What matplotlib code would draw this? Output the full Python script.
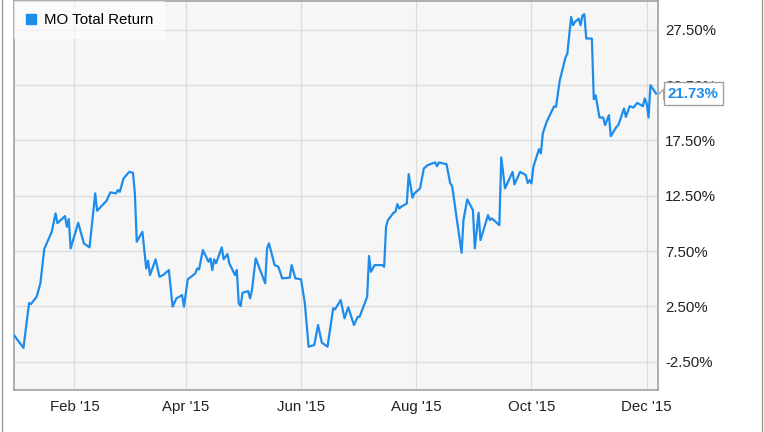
import pandas as pd
import matplotlib
matplotlib.use("Agg")
import matplotlib.pyplot as plt
import matplotlib.dates as mdates
from matplotlib.lines import Line2D
from matplotlib.ticker import FuncFormatter

plt.rcParams['font.family'] = ['Liberation Sans', 'DejaVu Sans']
plt.rcParams['font.sans-serif'] = ['Liberation Sans', 'DejaVu Sans']

series_name = "MO Total Return"

dates = [
    '2014-12-31', '2015-01-05', '2015-01-08', '2015-01-09', '2015-01-12', '2015-01-14',
    '2015-01-16', '2015-01-20', '2015-01-22', '2015-01-23', '2015-01-27', '2015-01-28',
    '2015-01-29', '2015-01-30', '2015-02-03', '2015-02-06', '2015-02-09', '2015-02-12',
    '2015-02-13', '2015-02-18', '2015-02-20', '2015-02-23', '2015-02-24', '2015-02-25',
    '2015-02-27', '2015-03-02', '2015-03-04', '2015-03-05', '2015-03-06', '2015-03-09',
    '2015-03-11', '2015-03-12', '2015-03-13', '2015-03-16', '2015-03-18', '2015-03-20',
    '2015-03-23', '2015-03-25', '2015-03-27', '2015-03-30', '2015-03-31', '2015-04-02',
    '2015-04-06', '2015-04-07', '2015-04-08', '2015-04-10', '2015-04-13', '2015-04-14',
    '2015-04-15', '2015-04-16', '2015-04-17', '2015-04-20', '2015-04-21', '2015-04-23',
    '2015-04-24', '2015-04-27', '2015-04-28', '2015-04-29', '2015-04-30', '2015-05-01',
    '2015-05-04', '2015-05-05', '2015-05-06', '2015-05-08', '2015-05-13', '2015-05-14',
    '2015-05-15', '2015-05-18', '2015-05-20', '2015-05-22', '2015-05-26', '2015-05-27',
    '2015-05-29', '2015-06-01', '2015-06-03', '2015-06-05', '2015-06-08', '2015-06-10',
    '2015-06-12', '2015-06-15', '2015-06-18', '2015-06-19', '2015-06-22', '2015-06-24',
    '2015-06-26', '2015-06-29', '2015-07-01', '2015-07-02', '2015-07-06', '2015-07-07',
    '2015-07-08', '2015-07-10', '2015-07-14', '2015-07-15', '2015-07-16', '2015-07-17',
    '2015-07-20', '2015-07-21', '2015-07-22', '2015-07-23', '2015-07-24', '2015-07-27',
    '2015-07-28', '2015-07-30', '2015-07-31', '2015-08-03', '2015-08-05', '2015-08-06',
    '2015-08-07', '2015-08-11', '2015-08-12', '2015-08-13', '2015-08-17', '2015-08-19',
    '2015-08-20', '2015-08-25', '2015-08-26', '2015-08-28', '2015-08-31', '2015-09-01',
    '2015-09-03', '2015-09-04', '2015-09-08', '2015-09-09', '2015-09-10', '2015-09-14',
    '2015-09-15', '2015-09-17', '2015-09-21', '2015-09-22', '2015-09-25', '2015-09-28',
    '2015-09-29', '2015-09-30', '2015-10-01', '2015-10-02', '2015-10-05', '2015-10-06',
    '2015-10-07', '2015-10-09', '2015-10-13', '2015-10-14', '2015-10-16', '2015-10-19',
    '2015-10-20', '2015-10-22', '2015-10-23', '2015-10-24', '2015-10-26', '2015-10-27',
    '2015-10-28', '2015-10-29', '2015-10-30', '2015-11-02', '2015-11-03', '2015-11-04',
    '2015-11-06', '2015-11-08', '2015-11-09', '2015-11-11', '2015-11-12', '2015-11-15',
    '2015-11-16', '2015-11-19', '2015-11-20', '2015-11-22', '2015-11-24', '2015-11-26',
    '2015-11-29', '2015-11-30', '2015-12-01', '2015-12-02', '2015-12-03', '2015-12-06',
]

total_return = [
    -0.10, -1.26, 2.80, 2.71, 3.37, 4.61,
    7.68, 9.24, 10.90, 10.02, 10.66, 9.69,
    10.39, 7.74, 10.05, 8.19, 7.83, 12.71,
    11.14, 12.04, 12.80, 12.71, 13.01, 12.85,
    14.06, 14.66, 14.57, 12.71, 8.34, 9.24,
    5.93, 6.62, 5.33, 6.75, 5.18, 5.33,
    5.78, 2.47, 3.22, 3.52, 2.47, 4.94,
    5.48, 5.93, 5.84, 7.59, 6.53, 6.84,
    5.78, 6.75, 6.39, 7.83, 6.75, 7.23,
    6.39, 5.33, 5.78, 2.77, 2.53, 3.73,
    3.88, 3.22, 3.97, 6.84, 4.58, 7.74,
    8.19, 6.23, 6.08, 5.03, 5.09, 6.23,
    5.03, 4.94, 2.77, -1.15, -0.99, 0.81,
    -0.78, -1.15, 2.32, 2.23, 3.07, 1.42,
    2.41, 0.81, 1.56, 1.56, 3.37, 7.05,
    5.63, 6.23, 6.23, 6.08, 9.69, 10.30,
    10.96, 11.05, 11.74, 11.35, 11.50, 11.80,
    14.45, 12.31, 12.71, 13.16, 14.96, 15.11,
    15.26, 15.51, 15.17, 15.51, 15.35, 13.61,
    13.37, 7.34, 10.30, 12.17, 11.20, 7.74,
    10.96, 8.49, 10.75, 10.30, 10.45, 9.84,
    15.96, 13.16, 14.66, 13.52, 14.66, 14.36,
    13.66, 13.91, 13.61, 15.11, 16.71, 16.32,
    18.13, 19.17, 20.59, 20.53, 22.94, 24.99,
    25.35, 28.66, 27.91, 28.20, 28.51, 27.91,
    28.81, 28.90, 26.71, 26.71, 21.22, 21.58,
    19.57, 19.57, 18.88, 19.78, 17.88, 18.72,
    18.88, 20.38, 19.62, 20.59, 20.47, 20.89,
    20.59, 21.29, 20.84, 19.57, 22.49, 21.73,
]

y_ticks = [-2.5, 2.5, 7.5, 12.5, 17.5, 22.5, 27.5]
x_ticks = ['2015-02-01', '2015-04-01', '2015-06-01', '2015-08-01', '2015-10-01', '2015-12-01']

blue = '#1e8ceb'
font = 'Liberation Sans'
x = pd.to_datetime(dates)

fig = plt.figure(figsize=(7.64, 4.32), dpi=100)
ax = fig.add_axes([14 / 764, 42 / 432, 644 / 764, 389 / 432])
ax.set_facecolor('#f6f6f6')

ax.plot(x, total_return, color=blue, lw=1.6, zorder=3)

ax.set_xlim(pd.Timestamp('2014-12-31'), pd.Timestamp('2015-12-07'))
ax.set_ylim(-5.06, 30.1)

ax.set_xticks(pd.to_datetime(x_ticks))
ax.xaxis.set_major_formatter(mdates.DateFormatter("%b '%y"))
ax.set_yticks(y_ticks)
ax.yaxis.set_major_formatter(FuncFormatter(lambda v, p: f'{v:.2f}%'))
ax.yaxis.tick_right()
ax.tick_params(axis='both', length=0, labelsize=10.8, colors='#222222')
ax.tick_params(axis='x', pad=7)
ax.tick_params(axis='y', pad=5)
for lab in ax.get_xticklabels() + ax.get_yticklabels():
    lab.set_fontfamily(font)

ax.grid(True, color='#dcdcdc', lw=0.9)
ax.set_axisbelow(True)
for s in ax.spines.values():
    s.set_color('#9a9a9a')
    s.set_linewidth(1.1)

handle = Line2D([], [], color=blue, marker='s', ls='none', markersize=7.5)
leg = ax.legend([handle], [series_name], loc='upper left', bbox_to_anchor=(0, 1),
                borderaxespad=0, borderpad=0.8, handlelength=0.7, handletextpad=0.5,
                fontsize=10.8, fancybox=False, framealpha=0.6, edgecolor='none',
                facecolor='white', prop={'family': font, 'size': 10.8})
leg.get_frame().set_linewidth(0)

# last value callout
last = total_return[-1]
ax.annotate(f'{last:.2f}%', xy=(1, last), xycoords=('axes fraction', 'data'),
            xytext=(7.2, 0), textcoords='offset points', va='center', ha='left',
            color=blue, fontsize=10.8, fontweight='bold', family=font,
            annotation_clip=False, zorder=6,
            bbox=dict(boxstyle='square,pad=0.28', fc='white', ec='#a0a0a0', lw=1))
ax.plot([1], [last], transform=ax.get_yaxis_transform(), marker=[(0, 0), (1, 1), (1, -1)],
        markersize=7.5, mfc='white', mec='#a0a0a0', mew=1, clip_on=False, zorder=7)

# outer frame lines
fig.add_artist(Line2D([1.5 / 764, 1.5 / 764], [0, 1], color='#9a9a9a', lw=1))
fig.add_artist(Line2D([761.5 / 764, 761.5 / 764], [0, 1], color='#9a9a9a', lw=1))

fig.savefig('out.png', dpi=100)
